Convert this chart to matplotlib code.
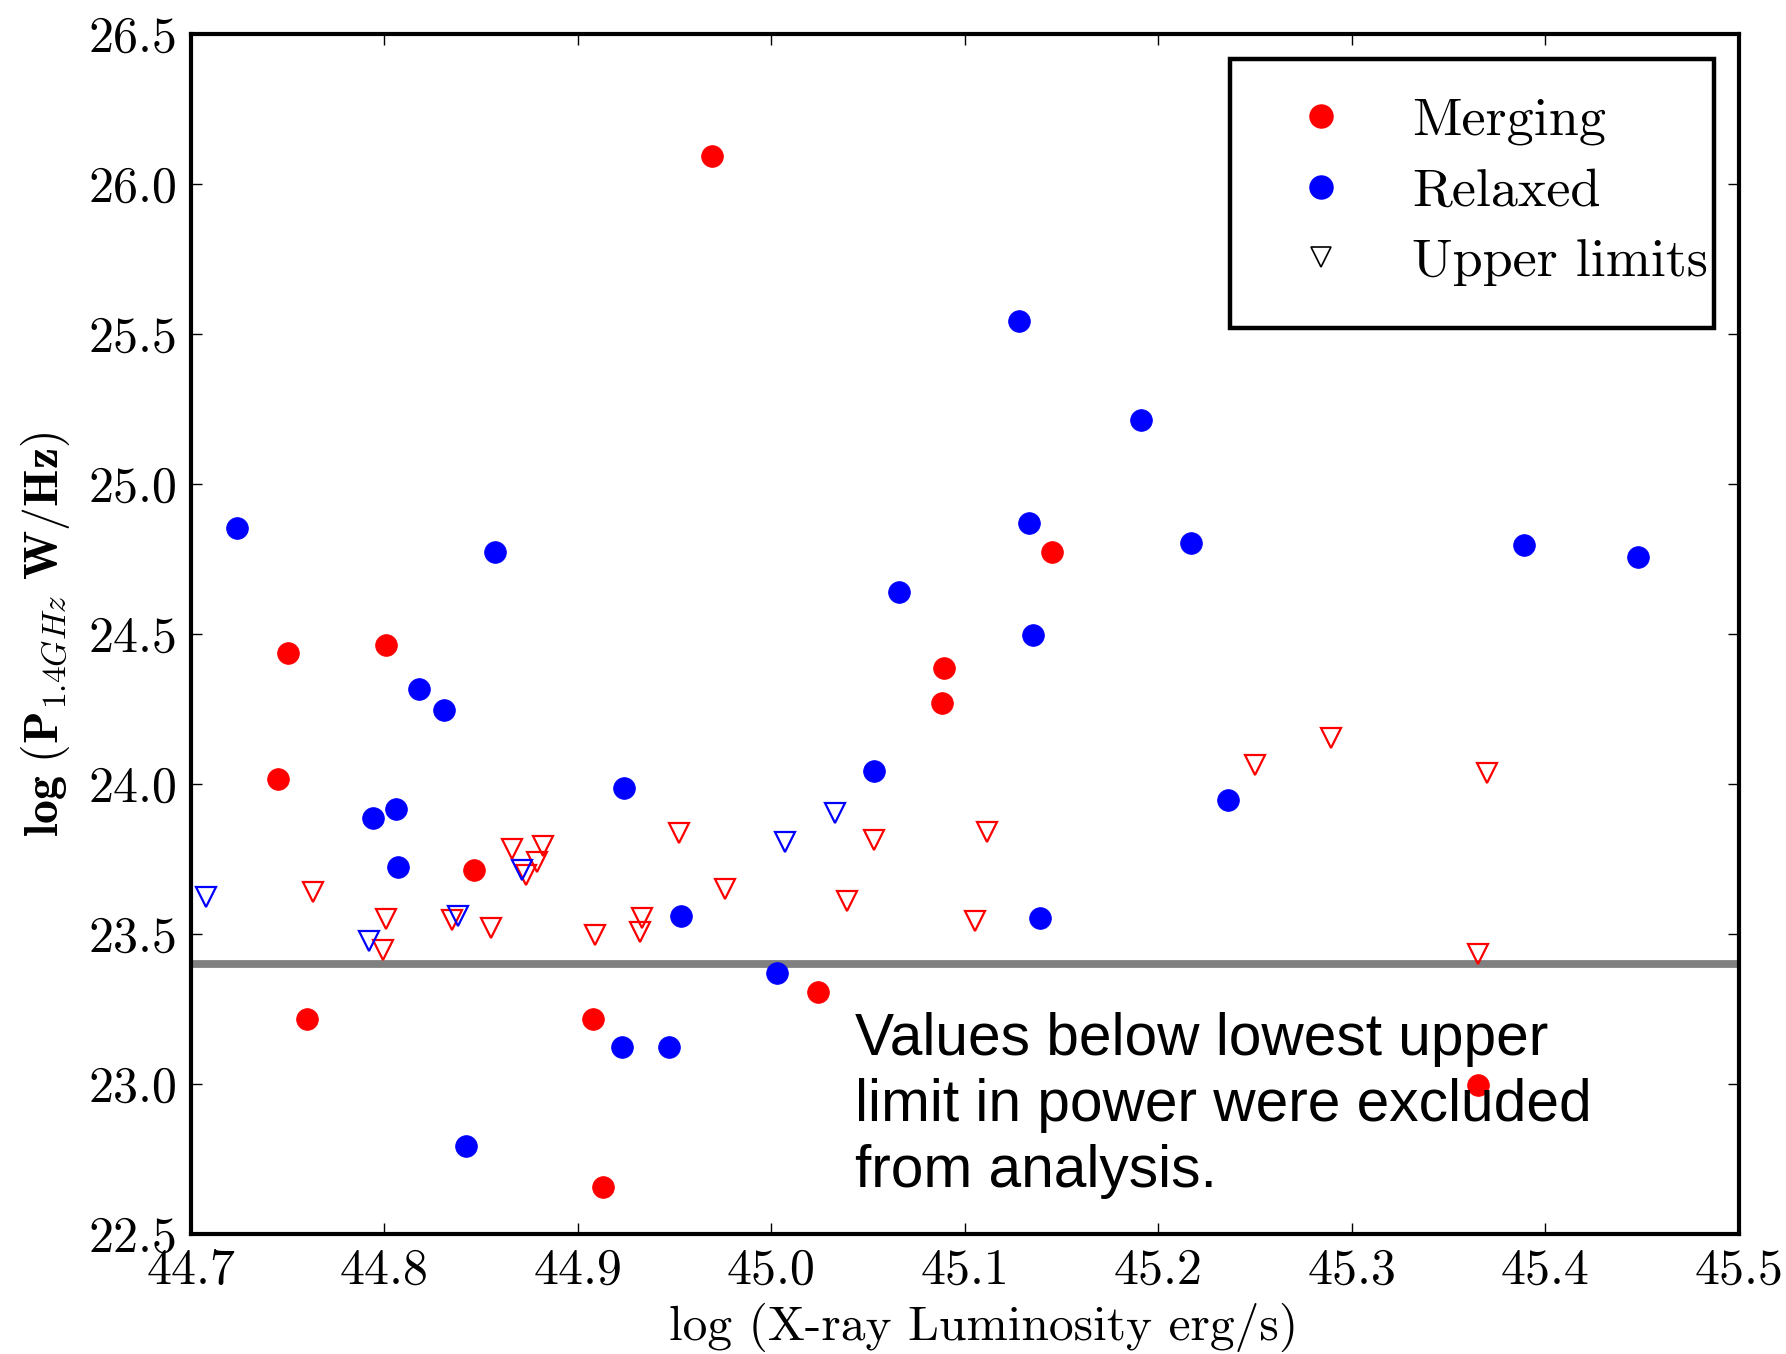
import matplotlib
matplotlib.use("Agg")
import matplotlib.pyplot as plt
from matplotlib.lines import Line2D
from matplotlib.patches import Rectangle

plt.rcParams['font.family'] = 'serif'
plt.rcParams['font.serif'] = ['cmr10']
plt.rcParams['mathtext.fontset'] = 'cm'
plt.rcParams['axes.formatter.use_mathtext'] = True

# Data
merging_x = [44.969, 45.145, 44.750, 44.801, 45.089, 45.088, 44.745, 44.846,
             44.760, 44.908, 45.024, 44.913, 45.365]
merging_y = [26.093, 24.772, 24.438, 24.464, 24.385, 24.271, 24.016, 23.712,
             23.215, 23.215, 23.306, 22.657, 22.995]

relaxed_x = [44.724, 44.857, 45.128, 45.191, 45.133, 45.217, 45.389, 45.448,
             45.066, 45.135, 44.818, 44.831, 45.053, 44.924, 45.236, 44.794,
             44.806, 44.807, 44.953, 45.139, 45.003, 44.923, 44.947, 44.842]
relaxed_y = [24.852, 24.772, 25.543, 25.212, 24.871, 24.802, 24.798, 24.757,
             24.639, 24.495, 24.316, 24.248, 24.043, 23.986, 23.948, 23.887,
             23.918, 23.724, 23.561, 23.553, 23.371, 23.124, 23.124, 22.794]

ul_merging_x = [44.763, 44.801, 44.799, 44.835, 44.855, 44.909, 44.866, 44.882,
                44.879, 44.873, 44.933, 44.932, 44.952, 44.976, 45.053, 45.039,
                45.1115, 45.105, 45.250, 45.289, 45.370, 45.365]
ul_merging_y = [23.639, 23.549, 23.446, 23.548, 23.520, 23.495, 23.782, 23.792,
                23.741, 23.697, 23.553, 23.506, 23.838, 23.650, 23.812, 23.610,
                23.839, 23.544, 24.063, 24.154, 24.038, 23.432]

ul_relaxed_x = [44.708, 44.792, 44.838, 44.871, 45.007, 45.033]
ul_relaxed_y = [23.622, 23.477, 23.560, 23.712, 23.806, 23.904]

cutoff = 23.4
x_ticks = [44.7, 44.8, 44.9, 45.0, 45.1, 45.2, 45.3, 45.4, 45.5]
y_ticks = [22.5, 23.0, 23.5, 24.0, 24.5, 25.0, 25.5, 26.0, 26.5]
legend_labels = ['Merging', 'Relaxed', 'Upper limits']
note = 'Values below lowest upper\nlimit in power were excluded\nfrom analysis.'

fig = plt.figure(figsize=(8.93, 6.77), dpi=200)
ax = fig.add_axes([0.10694, 0.08863, 0.86674, 0.88626])

ax.axhline(cutoff, color='#808080', lw=2.8, zorder=1)

ax.plot(merging_x, merging_y, 'o', color='r', ms=7.8, mec='r', mew=0.3, ls='none', zorder=3)
ax.plot(relaxed_x, relaxed_y, 'o', color='b', ms=7.8, mec='b', mew=0.3, ls='none', zorder=3)
ax.plot(ul_merging_x, ul_merging_y, 'v', mfc='none', mec='r', ms=7, mew=0.8, ls='none', zorder=2)
ax.plot(ul_relaxed_x, ul_relaxed_y, 'v', mfc='none', mec='b', ms=7, mew=0.8, ls='none', zorder=2)

ax.set_xlim(44.7, 45.5)
ax.set_ylim(22.5, 26.5)
ax.set_xticks(x_ticks)
ax.set_yticks(y_ticks)
ax.set_xticklabels(['%.1f' % v for v in x_ticks])
ax.set_yticklabels(['%.1f' % v for v in y_ticks])
ax.tick_params(direction='in', top=True, right=True, length=4, width=0.5,
               labelsize=18, pad=5)
for s in ax.spines.values():
    s.set_linewidth(1.5)

ax.set_xlabel('log (X-ray Luminosity erg/s)', fontsize=17.8)
ax.xaxis.set_label_coords(0.512, -0.057, transform=ax.transAxes)
ax.xaxis.label.set_va('top')
ax.set_ylabel(r'$\mathbf{log\ (P}_{1.4GHz}\mathbf{\ W/Hz)}$', fontsize=17.2, labelpad=6)

handles = [
    Line2D([], [], marker='o', color='r', ms=7.8, ls='none'),
    Line2D([], [], marker='o', color='b', ms=7.8, ls='none'),
    Line2D([], [], marker='v', mfc='none', mec='k', ms=7, mew=0.6, ls='none'),
]
leg = ax.legend(handles, legend_labels, loc='upper left', fontsize=19.5,
                bbox_to_anchor=(0.6947, 0.9478), borderaxespad=0, borderpad=0,
                numpoints=1, frameon=False, handlelength=2.0,
                handletextpad=0.69, labelspacing=0.42)
leg.set_zorder(6)

# legend frame
ax.add_patch(Rectangle((0.6712, 0.755), 0.3127, 0.2242, transform=ax.transAxes,
                       fill=False, ec='k', lw=1.6, zorder=5, clip_on=False))

ax.text(45.043, 23.24, note, fontsize=21.1, family='Liberation Sans',
        ha='left', va='top', linespacing=1.26, zorder=4)

fig.savefig('out.png', dpi=200)
